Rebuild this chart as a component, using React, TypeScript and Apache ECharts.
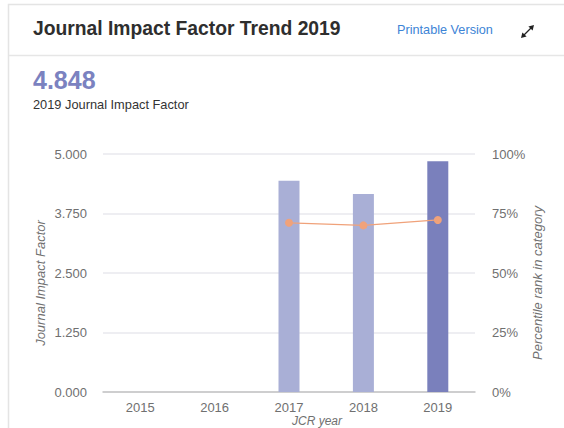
import React, { useEffect, useRef } from "react";
import * as echarts from "echarts";

const years = ["2015", "2016", "2017", "2018", "2019"];
const impactFactor: (number | null)[] = [null, null, 4.44, 4.16, 4.848];
const percentileRank: (number | null)[] = [null, null, 71.1, 70.0, 72.3];
const leftTicks = { min: 0, max: 5, interval: 1.25 };
const rightTicks = { min: 0, max: 100, interval: 25 };

const FONT = "'Liberation Sans', Arial, Helvetica, sans-serif";
const LIGHT_BAR = "#a9afd6";
const DARK_BAR = "#7a80bc";
const LABEL = "#707070";

export default function App() {
  const ref = useRef<HTMLDivElement>(null);
  useEffect(() => {
    if (!ref.current) return;
    const chart = echarts.init(ref.current, undefined, { renderer: "svg" });
    const lastIdx = years.length - 1;
    chart.setOption({
      animation: false,
      backgroundColor: "#ffffff",
      textStyle: { fontFamily: FONT },
      grid: { left: 103, top: 154, width: 372, height: 238 },
      xAxis: {
        type: "category",
        data: years,
        axisLine: { lineStyle: { color: "#c4c4c4", width: 1.5 } },
        axisTick: { alignWithLabel: true, length: 5, lineStyle: { color: "#9a9a9a" } },
        axisLabel: { color: LABEL, fontSize: 13, margin: 9, fontFamily: FONT },
      },
      yAxis: [
        {
          type: "value",
          min: leftTicks.min,
          max: leftTicks.max,
          interval: leftTicks.interval,
          axisLine: { show: false },
          axisTick: { show: false },
          axisLabel: {
            color: LABEL,
            fontSize: 13,
            margin: 16,
            fontFamily: FONT,
            formatter: (v: number) => v.toFixed(3),
          },
          splitLine: { lineStyle: { color: "#e8e8ee", width: 1.5 } },
        },
        {
          type: "value",
          min: rightTicks.min,
          max: rightTicks.max,
          interval: rightTicks.interval,
          position: "right",
          axisLine: { show: false },
          axisTick: { show: false },
          axisLabel: {
            color: LABEL,
            fontSize: 13,
            margin: 17,
            fontFamily: FONT,
            formatter: "{value}%",
          },
          splitLine: { show: false },
        },
      ],
      series: [
        {
          type: "bar",
          yAxisIndex: 0,
          barWidth: 21,
          data: impactFactor.map((v, i) => ({
            value: v,
            itemStyle: { color: i === lastIdx ? DARK_BAR : LIGHT_BAR },
          })),
        },
        {
          type: "line",
          yAxisIndex: 1,
          data: percentileRank,
          symbol: "circle",
          symbolSize: 8,
          lineStyle: { color: "#f0a27a", width: 1.2 },
          itemStyle: { color: "#f0a27a" },
          connectNulls: false,
        },
      ],
      graphic: [
        {
          type: "rect",
          shape: { x: 8.5, y: 4.5, width: 600, height: 500 },
          style: { fill: "none", stroke: "#e4e4e4", lineWidth: 1.5 },
          silent: true,
        },
        {
          type: "line",
          shape: { x1: 9, y1: 55.5, x2: 564, y2: 55.5 },
          style: { stroke: "#e6e6e6", lineWidth: 1.5 },
        },
        {
          type: "text",
          x: 33,
          y: 28,
          style: {
            text: "Journal Impact Factor Trend 2019",
            fill: "#2e2e2e",
            font: `bold 19.3px ${FONT}`,
            textVerticalAlign: "middle",
          },
        },
        {
          type: "text",
          x: 397,
          y: 30,
          style: {
            text: "Printable Version",
            fill: "#3d84d6",
            font: `12.7px ${FONT}`,
            textVerticalAlign: "middle",
          },
        },
        {
          type: "line",
          shape: { x1: 522.5, y1: 36.5, x2: 532.5, y2: 26.5 },
          style: { stroke: "#222", lineWidth: 1.3 },
        },
        {
          type: "polygon",
          shape: { points: [[534, 25], [528.4, 26.4], [532.6, 30.6]] },
          style: { fill: "#222" },
        },
        {
          type: "polygon",
          shape: { points: [[521, 38], [522.4, 32.4], [526.6, 36.6]] },
          style: { fill: "#222" },
        },
        {
          type: "text",
          x: 33,
          y: 80,
          style: {
            text: "4.848",
            fill: "#7b82c0",
            font: `bold 25px ${FONT}`,
            textVerticalAlign: "middle",
          },
        },
        {
          type: "text",
          x: 33,
          y: 104,
          style: {
            text: "2019 Journal Impact Factor",
            fill: "#333",
            font: `12.8px ${FONT}`,
            textVerticalAlign: "middle",
          },
        },
        {
          type: "text",
          x: 40,
          y: 283,
          rotation: Math.PI / 2,
          style: {
            text: "Journal Impact Factor",
            fill: LABEL,
            font: `italic 13px ${FONT}`,
            textAlign: "center",
            textVerticalAlign: "middle",
          },
        },
        {
          type: "text",
          x: 537,
          y: 283,
          rotation: Math.PI / 2,
          style: {
            text: "Percentile rank in category",
            fill: LABEL,
            font: `italic 13px ${FONT}`,
            textAlign: "center",
            textVerticalAlign: "middle",
          },
        },
        {
          type: "text",
          x: 317,
          y: 421,
          style: {
            text: "JCR year",
            fill: LABEL,
            font: `italic 12px ${FONT}`,
            textAlign: "center",
            textVerticalAlign: "middle",
          },
        },
      ],
    });
    return () => chart.dispose();
  }, []);
  return (
    <div
      ref={ref}
      style={{ position: "absolute", left: 0, top: 0, width: 564, height: 428 }}
    />
  );
}
